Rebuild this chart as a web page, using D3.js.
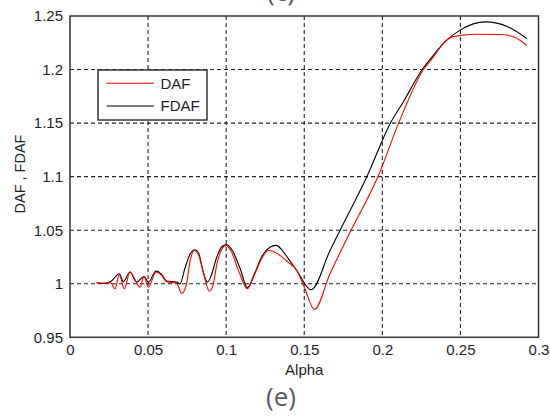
<!DOCTYPE html>
<html><head><meta charset="utf-8">
<script src="https://cdn.jsdelivr.net/npm/d3@7"></script>
<style>html,body{margin:0;padding:0;background:#fff;}svg{display:block;}</style>
</head><body>
<svg id="chart" width="550" height="416"></svg>
<script>
const dafAlpha = [0.017,0.022,0.026,0.0288,0.0316,0.0348,0.0384,0.0448,0.0474,0.0502,0.0551,0.0585,0.0619,0.0683,0.0715,0.0745,0.077,0.0796,0.082,0.0855,0.0892,0.0915,0.094,0.0975,0.0999,0.103,0.108,0.1136,0.118,0.123,0.127,0.1398,0.1452,0.150,0.1565,0.1665,0.1793,0.1975,0.2103,0.2263,0.2327,0.2400,0.2445,0.2594,0.2765,0.285,0.2925];
const dafValues = [1.001,1.0005,1.001,0.9953,1.0084,0.9953,1.011,0.9968,1.0068,0.9968,1.011,1.008,1.002,1.0005,0.991,0.999,1.022,1.031,1.028,1.010,0.993,0.998,1.018,1.033,1.0358,1.031,1.012,0.9953,1.008,1.024,1.031,1.020,1.0124,0.997,0.976,1.0093,1.048,1.101,1.1495,1.20,1.2118,1.2258,1.2305,1.233,1.2327,1.230,1.2227];
const fdafAlpha = [0.017,0.022,0.026,0.0316,0.0342,0.0384,0.0427,0.0474,0.0502,0.0551,0.0585,0.0619,0.0683,0.0705,0.0735,0.077,0.080,0.0825,0.0855,0.088,0.0905,0.094,0.0975,0.1004,0.104,0.109,0.1136,0.118,0.123,0.128,0.132,0.136,0.1398,0.1452,0.1544,0.1665,0.1729,0.190,0.205,0.2135,0.2252,0.2327,0.240,0.2498,0.2658,0.2807,0.2925];
const fdafValues = [1.001,1.0005,1.002,1.0093,1.002,1.011,1.0015,1.0068,1.0015,1.0118,1.009,1.0025,1.0015,1.0,1.014,1.028,1.0318,1.028,1.010,1.0015,1.008,1.025,1.035,1.0367,1.031,1.014,0.9963,1.009,1.026,1.034,1.0358,1.031,1.0234,1.0124,0.9944,1.031,1.0498,1.0996,1.1495,1.170,1.1993,1.2133,1.2258,1.2368,1.2445,1.2398,1.229];
const xTicks = [0,0.05,0.1,0.15,0.2,0.25,0.3];
const xTickLabels = ["0","0.05","0.1","0.15","0.2","0.25","0.3"];
const yTicks = [0.95,1,1.05,1.1,1.15,1.2,1.25];
const yTickLabels = ["0.95","1","1.05","1.1","1.15","1.2","1.25"];
const seriesNames = ["DAF","FDAF"];
const seriesColors = ["#ff0000","#000000"];

const svg = d3.select("#chart");
const L = 70, R = 538.5, T = 16, B = 337.3;
const x = d3.scaleLinear().domain([0,0.3]).range([L,R]);
const y = d3.scaleLinear().domain([0.95,1.25]).range([B,T]);
const font = "Liberation Sans, Arial, sans-serif";

svg.append("rect").attr("x",L).attr("y",T).attr("width",R-L).attr("height",B-T).attr("fill","#fff");

// grid
const g = svg.append("g");
xTicks.slice(1,-1).forEach(t=>{
  g.append("line").attr("x1",x(t)).attr("x2",x(t)).attr("y1",T).attr("y2",B)
   .attr("stroke","#222").attr("stroke-width",1.1).attr("stroke-dasharray","4,3");
});
yTicks.slice(1,-1).forEach(t=>{
  g.append("line").attr("x1",L).attr("x2",R).attr("y1",y(t)).attr("y2",y(t))
   .attr("stroke","#222").attr("stroke-width",1.1).attr("stroke-dasharray","4,3");
});

// axes via d3
const xAxis = d3.axisBottom(x).tickValues(xTicks).tickFormat((d,i)=>xTickLabels[i]).tickSize(0).tickPadding(8);
const yAxis = d3.axisLeft(y).tickValues(yTicks).tickFormat((d,i)=>yTickLabels[i]).tickSize(0).tickPadding(7);
const xa = svg.append("g").attr("transform",`translate(0,${B})`).call(xAxis);
const ya = svg.append("g").attr("transform",`translate(${L},0)`).call(yAxis);
[xa,ya].forEach(a=>{
  a.select(".domain").remove();
  a.selectAll("text").attr("font-family",font).attr("font-size",15).attr("fill","#1e1e28");
});
xa.selectAll("text").attr("dy","0.71em").attr("y",7);

// lines
const line = d3.line().x(d=>x(d[0])).y(d=>y(d[1])).curve(d3.curveMonotoneX);
const dafData = dafAlpha.map((a,i)=>[a,dafValues[i]]);
const fdafData = fdafAlpha.map((a,i)=>[a,fdafValues[i]]);
svg.append("clipPath").attr("id","clip").append("rect").attr("x",L).attr("y",T).attr("width",R-L).attr("height",B-T);
svg.append("path").datum(fdafData).attr("d",line).attr("fill","none").attr("stroke",seriesColors[1]).attr("stroke-width",1.1).attr("clip-path","url(#clip)");
svg.append("path").datum(dafData).attr("d",line).attr("fill","none").attr("stroke",seriesColors[0]).attr("stroke-width",1.1).attr("clip-path","url(#clip)");

// frame
svg.append("rect").attr("x",L).attr("y",T).attr("width",R-L).attr("height",B-T)
  .attr("fill","none").attr("stroke","#333").attr("stroke-width",1.5);

// legend
const lg = svg.append("g");
lg.append("rect").attr("x",98).attr("y",70).attr("width",109).attr("height",50)
  .attr("fill","#fff").attr("stroke","#333").attr("stroke-width",1.5);
seriesNames.forEach((n,i)=>{
  const yy = 83.3 + i*22.7;
  lg.append("line").attr("x1",106.5).attr("x2",154).attr("y1",yy).attr("y2",yy)
    .attr("stroke",seriesColors[i]).attr("stroke-width",1.1);
  lg.append("text").attr("x",160.5).attr("y",yy+5.3).text(n)
    .attr("font-family",font).attr("font-size",15).attr("fill","#1e1e28");
});

// axis labels
svg.append("text").attr("x",(L+R)/2).attr("y",375).attr("text-anchor","middle").text("Alpha")
  .attr("font-family",font).attr("font-size",15).attr("fill","#1e1e28");
svg.append("text").attr("transform",`translate(25,174) rotate(-90)`).attr("text-anchor","middle").text("DAF , FDAF")
  .attr("font-family",font).attr("font-size",14.5).attr("fill","#1e1e28");

// panel labels
svg.append("text").attr("x",281).attr("y",406).attr("text-anchor","middle").text("(e)")
  .attr("font-family","Open Sans, sans-serif").attr("font-size",26).attr("fill","#555a61");
svg.append("text").attr("x",281).attr("y",1).attr("text-anchor","middle").text("(c)")
  .attr("font-family","Open Sans, sans-serif").attr("font-size",26).attr("fill","#555a61");
</script>
</body></html>
